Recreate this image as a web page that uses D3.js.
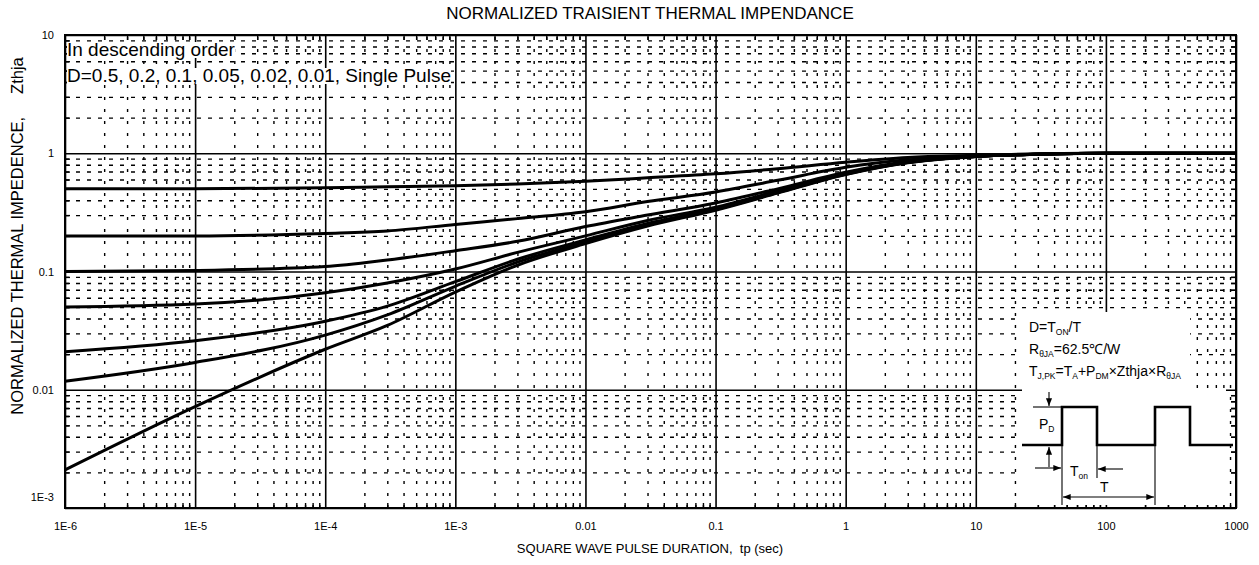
<!DOCTYPE html>
<html><head><meta charset="utf-8">
<script src="https://cdn.jsdelivr.net/npm/d3@7"></script>
<style>
body{margin:0;background:#fff}
svg{display:block}
text{font-family:"Liberation Sans",Arial,Helvetica,sans-serif;fill:#000;white-space:pre}
</style>
</head><body>
<svg id="c" width="1259" height="565"></svg>
<script>
// ---------------- data ----------------
const tValues = [1e-6, 1e-5, 1e-4, 3e-4, 1e-3, 3e-3, 1e-2, 3e-2, 0.1, 0.3, 1, 3, 10, 30, 100, 1000];
const seriesNames = ["D=0.5", "D=0.2", "D=0.1", "D=0.05", "D=0.02", "D=0.01", "Single Pulse"];
const zD050 = [0.50, 0.50, 0.51, 0.52, 0.53, 0.55, 0.58, 0.62, 0.67, 0.74, 0.84, 0.92, 0.96, 0.99, 1.0, 1.0];
const zD020 = [0.20, 0.20, 0.21, 0.22, 0.25, 0.28, 0.32, 0.39, 0.47, 0.59, 0.76, 0.88, 0.95, 0.98, 1.0, 1.0];
const zD010 = [0.100, 0.102, 0.11, 0.125, 0.15, 0.18, 0.24, 0.30, 0.38, 0.50, 0.69, 0.85, 0.94, 0.98, 1.0, 1.0];
const zD005 = [0.050, 0.053, 0.066, 0.080, 0.105, 0.145, 0.20, 0.27, 0.35, 0.48, 0.68, 0.84, 0.94, 0.98, 1.0, 1.0];
const zD002 = [0.021, 0.026, 0.038, 0.051, 0.082, 0.127, 0.185, 0.255, 0.34, 0.47, 0.67, 0.84, 0.94, 0.98, 1.0, 1.0];
const zD001 = [0.0118, 0.017, 0.029, 0.043, 0.075, 0.12, 0.178, 0.248, 0.335, 0.465, 0.665, 0.835, 0.94, 0.98, 1.0, 1.0];
const zSingle = [0.0021, 0.0072, 0.022, 0.035, 0.067, 0.113, 0.172, 0.242, 0.33, 0.46, 0.66, 0.83, 0.94, 0.98, 1.0, 1.0];
const seriesValues = [zD050, zD020, zD010, zD005, zD002, zD001, zSingle];

const xTickValues = [1e-6, 1e-5, 1e-4, 1e-3, 1e-2, 1e-1, 1, 10, 100, 1000];
const xTickLabels = ["1E-6", "1E-5", "1E-4", "1E-3", "0.01", "0.1", "1", "10", "100", "1000"];
const yTickValues = [1e-3, 1e-2, 1e-1, 1, 10];
const yTickLabels = ["1E-3", "0.01", "0.1", "1", "10"];

const titleText = "NORMALIZED TRAISIENT THERMAL IMPENDANCE";
const xTitle = "SQUARE WAVE PULSE DURATION,  tp (sec)";
const yTitle = "NORMALIZED THERMAL IMPEDENCE,     Zthja";
const noteLine1 = "In descending order";
const noteLine2 = "D=0.5, 0.2, 0.1, 0.05, 0.02, 0.01, Single Pulse";

// ---------------- layout ----------------
const svg = d3.select("#c");
const L = 65, R = 1236, T = 35, B = 508;
const x = d3.scaleLog().domain([1e-6, 1e3]).range([L, R]);
const y = d3.scaleLog().domain([1e-3, 10]).range([B, T]);

const xMinor = [];
for (let e = -6; e < 3; e++) for (let k = 2; k < 10; k++) xMinor.push(k * Math.pow(10, e));
const yMinor = [];
for (let e = -3; e < 1; e++) for (let k = 2; k < 10; k++) yMinor.push(k * Math.pow(10, e));

svg.append("rect").attr("width", 1259).attr("height", 565).attr("fill", "#fff");

// minor grid
const gMinX = svg.append("g").attr("transform", `translate(0,${B})`)
  .call(d3.axisBottom(x).tickValues(xMinor).tickSize(-(B - T)).tickFormat(""));
gMinX.select(".domain").remove();
gMinX.selectAll("text").remove();
gMinX.selectAll("line").attr("stroke", "#000").attr("stroke-width", 1.4).attr("stroke-dasharray", "3,9");

const gMinY = svg.append("g").attr("transform", `translate(${L},0)`)
  .call(d3.axisLeft(y).tickValues(yMinor).tickSize(-(R - L)).tickFormat(""));
gMinY.select(".domain").remove();
gMinY.selectAll("text").remove();
gMinY.selectAll("line").attr("stroke", "#000").attr("stroke-width", 1.4).attr("stroke-dasharray", "4,7");

// major grid
const gMajX = svg.append("g").attr("transform", `translate(0,${B})`)
  .call(d3.axisBottom(x).tickValues(xTickValues).tickSize(-(B - T)).tickFormat(""));
gMajX.select(".domain").remove();
gMajX.selectAll("text").remove();
gMajX.selectAll("line").attr("stroke", "#000").attr("stroke-width", 1.6);

const gMajY = svg.append("g").attr("transform", `translate(${L},0)`)
  .call(d3.axisLeft(y).tickValues(yTickValues).tickSize(-(R - L)).tickFormat(""));
gMajY.select(".domain").remove();
gMajY.selectAll("text").remove();
gMajY.selectAll("line").attr("stroke", "#000").attr("stroke-width", 1.6);

// inner ticks on all four edges
function edgeTicks(axis, tr) {
  const g = svg.append("g").attr("transform", tr).call(axis);
  g.select(".domain").remove();
  g.selectAll("text").remove();
  g.selectAll("line").attr("stroke", "#000").attr("stroke-width", 1.4);
}
edgeTicks(d3.axisBottom(x).tickValues(xMinor).tickSize(-5).tickFormat(""), `translate(0,${B})`);
edgeTicks(d3.axisTop(x).tickValues(xMinor).tickSize(-5).tickFormat(""), `translate(0,${T})`);
edgeTicks(d3.axisLeft(y).tickValues(yMinor).tickSize(-5).tickFormat(""), `translate(${L},0)`);
edgeTicks(d3.axisRight(y).tickValues(yMinor).tickSize(-5).tickFormat(""), `translate(${R},0)`);

// tick labels
const gxl = svg.append("g").attr("transform", `translate(0,${B})`)
  .call(d3.axisBottom(x).tickValues(xTickValues).tickSize(0).tickPadding(14)
    .tickFormat((d, i) => xTickLabels[i]));
gxl.select(".domain").remove();
gxl.selectAll("text").attr("font-size", 11).attr("font-family", null);

const gyl = svg.append("g").attr("transform", `translate(${L},0)`)
  .call(d3.axisLeft(y).tickValues(yTickValues).tickSize(0).tickPadding(11)
    .tickFormat((d, i) => yTickLabels[i]));
gyl.select(".domain").remove();
gyl.selectAll("text").attr("font-size", 11).attr("font-family", null);
gyl.selectAll(".tick").filter((d, i) => i === 0).select("text").attr("dy", "-0.68em");

// ---------------- inset (white boxes) ----------------
const inset = svg.append("g");
inset.append("rect").attr("x", 1022).attr("y", 312).attr("width", 168).attr("height", 78).attr("fill", "#fff");
inset.append("rect").attr("x", 1022).attr("y", 388).attr("width", 204).attr("height", 117).attr("fill", "#fff");

function subText(g, xx, yy, parts) {
  const t = g.append("text").attr("x", xx).attr("y", yy).attr("font-size", 14);
  let cur = 0;
  parts.forEach(p => {
    const target = p[1] ? 3 : 0;
    const ts = t.append("tspan").attr("dy", target - cur).text(p[0]);
    if (p[1]) ts.attr("font-size", 8.5);
    cur = target;
  });
  return t;
}
subText(inset, 1029, 332, [["D=T"], ["ON", 1], ["/T"]]);
subText(inset, 1029, 354, [["R"], ["\u03b8JA", 1], ["=62.5\u2103/W"]]);
subText(inset, 1029, 376, [["T"], ["J,PK", 1], ["=T"], ["A", 1], ["+P"], ["DM", 1], ["\u00d7Zthja\u00d7R"], ["\u03b8JA", 1]]);

// pulse diagram
const defs = svg.append("defs");
defs.append("marker").attr("id", "ah").attr("viewBox", "0 0 10 10").attr("refX", 10).attr("refY", 5)
  .attr("markerWidth", 7).attr("markerHeight", 7).attr("orient", "auto-start-reverse")
  .append("path").attr("d", "M0,1 L10,5 L0,9 Z").attr("fill", "#000");

const lo = 445, hi = 407;
const pulse = [[1022, lo], [1062, lo], [1062, hi], [1097, hi], [1097, lo], [1155, lo], [1155, hi], [1190, hi], [1190, lo], [1233, lo]];
inset.append("path").attr("d", d3.line()(pulse)).attr("fill", "none").attr("stroke", "#000").attr("stroke-width", 2.6);
const thin = (x1, y1, x2, y2, m1, m2) => {
  const l = inset.append("line").attr("x1", x1).attr("y1", y1).attr("x2", x2).attr("y2", y2)
    .attr("stroke", "#000").attr("stroke-width", 1.1);
  if (m1) l.attr("marker-start", "url(#ah)");
  if (m2) l.attr("marker-end", "url(#ah)");
};
thin(1033, hi, 1062, hi);
thin(1062, lo, 1062, 505);
thin(1155, lo, 1155, 505);
thin(1097, lo, 1097, 478);
thin(1049, 392, 1049, hi - 1, false, true);
thin(1049, 467, 1049, lo + 2, false, true);
thin(1035, 468, 1061, 468, false, true);
thin(1123, 469, 1098, 469, false, true);
thin(1063, 497, 1154, 497, true, true);
subText(inset, 1039, 429, [["P"], ["D", 1]]);
subText(inset, 1070, 476, [["T"], ["on", 1]]);
subText(inset, 1100, 492, [["T"]]);

// ---------------- curves ----------------
const line = d3.line().x(d => x(d[0])).y(d => y(d[1])).curve(d3.curveMonotoneX);
svg.append("g").selectAll("path").data(seriesValues).join("path")
  .attr("d", vals => line(tValues.map((t, i) => [t, vals[i]])))
  .attr("fill", "none").attr("stroke", "#000").attr("stroke-width", 3)
  .attr("stroke-linejoin", "round").attr("stroke-linecap", "butt");

// plot border
svg.append("rect").attr("x", L).attr("y", T).attr("width", R - L).attr("height", B - T)
  .attr("fill", "none").attr("stroke", "#000").attr("stroke-width", 2);

// note text top-left with white background
function bgText(xx, yy, str) {
  const t = svg.append("text").attr("x", xx).attr("y", yy).attr("font-size", 19).text(str);
  const bb = t.node().getBBox();
  svg.insert("rect", () => t.node()).attr("x", bb.x).attr("y", bb.y + 3).attr("width", bb.width).attr("height", bb.height - 5).attr("fill", "#fff");
}
bgText(67, 56, noteLine1);
bgText(67, 82, noteLine2);

// titles
svg.append("text").attr("x", 650).attr("y", 19).attr("text-anchor", "middle").attr("font-size", 17).text(titleText);
svg.append("text").attr("x", 650).attr("y", 553).attr("text-anchor", "middle").attr("font-size", 13).text(xTitle);
svg.append("text").attr("transform", `translate(23,236) rotate(-90)`).attr("text-anchor", "middle")
  .attr("font-size", 16.5).text(yTitle);
</script>
</body></html>
